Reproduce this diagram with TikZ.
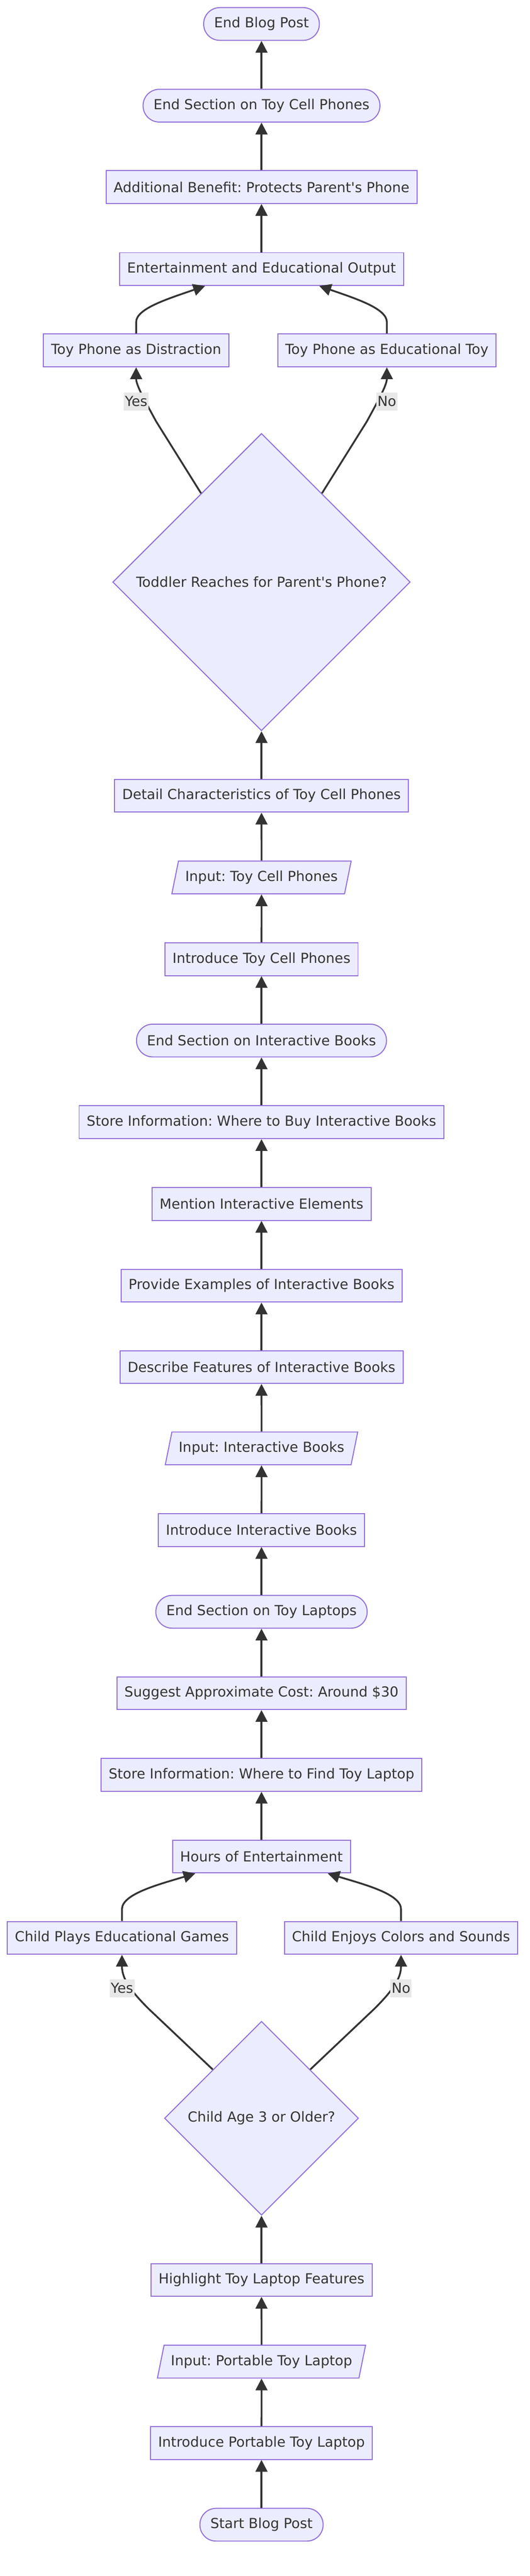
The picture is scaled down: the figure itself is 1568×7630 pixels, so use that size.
\documentclass[tikz,border=0pt]{standalone}
\usepackage{fontspec}
\setmainfont{DejaVu Sans}
\frenchspacing
\usetikzlibrary{positioning, calc, arrows.meta, shapes.geometric}

\definecolor{boxfill}{HTML}{ECECFF}
\definecolor{boxline}{HTML}{9370DB}
\definecolor{ink}{HTML}{333333}
\definecolor{lblfill}{HTML}{E8E8E8}

\tikzset{
  base/.style={draw=boxline, fill=boxfill, line width=0.85pt, text=ink, font=\fontsize{11.66pt}{14pt}\selectfont, minimum height=0.97cm, inner ysep=0pt},
  proc/.style={base, rectangle, inner xsep=0.225cm},
  term/.style={base, rectangle, rounded corners=0.48cm, inner xsep=0.31cm},
  io/.style={base, trapezium, trapezium left angle=63.7, trapezium right angle=116.3, trapezium stretches=true, inner xsep=0.2cm},
  decide/.style={base, diamond, aspect=1, inner sep=0pt},
  arr/.style={draw=ink, line width=1.5pt, -{Triangle[length=0.35cm,width=0.35cm]}},
  lbl/.style={fill=lblfill, text=ink, font=\fontsize{11.66pt}{14pt}\selectfont, inner xsep=1pt, inner ysep=0pt, minimum height=0.53cm}
}

\begin{document}
\begin{tikzpicture}[x=0.01cm, y=-0.01cm]
            \path[use as bounding box, fill=white] (0,0) rectangle (1568,7630);
            % toy laptop section
            \node[term] (postStart) at (774,7478) {Start Blog Post};
            \node[proc] (introLaptop) at (774,7236) {Introduce Portable Toy Laptop};
            \node[io] (inLaptop) at (774,6995) {Input: Portable Toy Laptop};
            \node[proc] (highlight) at (774,6753) {Highlight Toy Laptop Features};
            \node[decide, minimum size=5.74cm] (age) at (774,6274) {Child Age 3 or Older?};
            \node[proc] (games) at (361,5740) {Child Plays Educational Games};
            \node[proc] (colors) at (1187,5740) {Child Enjoys Colors and Sounds};
            \node[proc] (hours) at (774,5499) {Hours of Entertainment};
            \node[proc] (storeLaptop) at (774,5257) {Store Information: Where to Find Toy Laptop};
            \node[proc] (cost) at (774,5015) {Suggest Approximate Cost: Around \$30};
            \node[term] (endLaptop) at (774,4774) {End Section on Toy Laptops};
            % interactive books section
            \node[proc] (introBooks) at (774,4532) {Introduce Interactive Books};
            \node[io] (inBooks) at (774,4290) {Input: Interactive Books};
            \node[proc] (featBooks) at (774,4049) {Describe Features of Interactive Books};
            \node[proc] (examples) at (774,3808) {Provide Examples of Interactive Books};
            \node[proc] (mention) at (774,3566) {Mention Interactive Elements};
            \node[proc] (storeBooks) at (774,3324) {Store Information: Where to Buy Interactive Books};
            \node[term] (endBooks) at (774,3082) {End Section on Interactive Books};
            % toy cell phones section
            \node[proc] (introPhones) at (774,2841) {Introduce Toy Cell Phones};
            \node[io] (inPhones) at (774,2599) {Input: Toy Cell Phones};
            \node[proc] (detail) at (774,2357) {Detail Characteristics of Toy Cell Phones};
            \node[decide, minimum size=8.8cm] (reach) at (774,1724) {Toddler Reaches for Parent\textquotesingle s Phone?};
            \node[proc] (distract) at (403,1038) {Toy Phone as Distraction};
            \node[proc] (eduToy) at (1145,1038) {Toy Phone as Educational Toy};
            \node[proc] (output) at (774,797) {Entertainment and Educational Output};
            \node[proc] (benefit) at (774,554) {Additional Benefit: Protects Parent\textquotesingle s Phone};
            \node[term] (endPhones) at (774,313) {End Section on Toy Cell Phones};
            \node[term] (postEnd) at (774,71) {End Blog Post};

            % straight links
            \foreach \a/\b in {postStart/introLaptop, introLaptop/inLaptop, inLaptop/highlight, highlight/age, hours/storeLaptop, storeLaptop/cost, cost/endLaptop, endLaptop/introBooks, introBooks/inBooks, inBooks/featBooks, featBooks/examples, examples/mention, mention/storeBooks, storeBooks/endBooks, endBooks/introPhones, introPhones/inPhones, inPhones/detail, detail/reach, output/benefit, benefit/endPhones, endPhones/postEnd}
                \draw[arr] (\a) -- (\b);

            % laptop branches
            \draw[arr] (age.north west) -- (440,5950) .. controls (385,5895) and (361,5860) .. (games.south);
            \draw[arr] (age.north east) -- (1108,5950) .. controls (1163,5895) and (1187,5860) .. (colors.south);
            \node[lbl] (yesAge) at ($(games.south)+(0,99)$) {Yes};
            \node[lbl] (noAge) at ($(colors.south)+(0,99)$) {No};
            \draw[arr] (games.north) -- ++(0,-35) .. controls +(0,-45) and +(-110,33) .. ($(hours.south)+(-196,0)$);
            \draw[arr] (colors.north) -- ++(0,-35) .. controls +(0,-45) and +(110,33) .. ($(hours.south)+(196,0)$);

            % phone branches
            \draw[arr] ($(reach.north west)!0.19!(reach.north)$) -- (462,1248) .. controls (425,1180) and (403,1140) .. (distract.south);
            \draw[arr] ($(reach.north east)!0.19!(reach.north)$) -- (1086,1248) .. controls (1123,1180) and (1145,1140) .. (eduToy.south);
            \node[lbl] (yesReach) at ($(distract.south)+(0,101)$) {Yes};
            \node[lbl] (noReach) at ($(eduToy.south)+(0,101)$) {No};
            \draw[arr] (distract.north) -- ++(0,-34) .. controls +(0,-40) and +(-110,38) .. ($(output.south)+(-167,0)$);
            \draw[arr] (eduToy.north) -- ++(0,-34) .. controls +(0,-40) and +(110,38) .. ($(output.south)+(171,0)$);
        \end{tikzpicture}
\end{document}
